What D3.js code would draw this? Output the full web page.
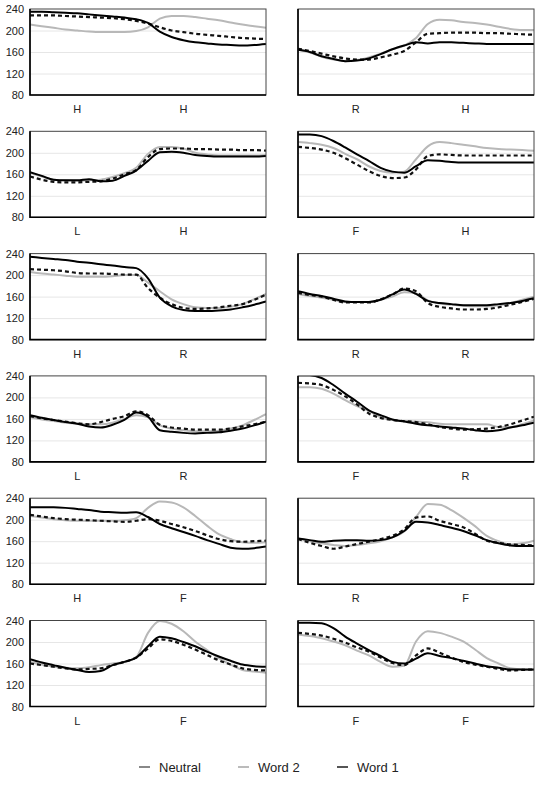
<!DOCTYPE html>
<html>
<head>
<meta charset="utf-8">
<script src="https://cdn.jsdelivr.net/npm/d3@7"></script>
<style>
  body { margin: 0; background: #fff; }
  svg text { font-family: "Liberation Sans", Arial, sans-serif; }
</style>
</head>
<body>
<div id="chart"></div>
<script>
// time points (percent of the utterance)
const timePoints = [0, 5, 10, 15, 20, 25, 30, 35, 40, 45, 50, 55, 60, 65, 70, 75, 80, 85, 90, 95, 100];
const yTicks = [80, 120, 160, 200, 240];

// word pair shown under each panel, row by row (left, right)
const panelWords = [
    ["H", "H"], ["R", "H"],
    ["L", "H"], ["F", "H"],
    ["H", "R"], ["R", "R"],
    ["L", "R"], ["F", "R"],
    ["H", "F"], ["R", "F"],
    ["L", "F"], ["F", "F"]
];
// where the two word labels sit on the time axis (left column, right column)
const labelPos = [[20, 65], [24.5, 71]];

const neutralSeries = [
    [228,228,228,227,226,225,224,223,221,218,213,206,200,197,194,192,190,188,186,185,184],
    [166,162,157,152,148,146,146,150,155,162,178,194,195,196,196,196,195,195,194,193,192],
    [156,150,146,145,145,146,147,152,160,168,192,207,208,208,207,207,206,206,205,205,204],
    [211,209,206,200,190,178,166,157,153,154,169,194,197,196,195,195,195,195,195,195,195],
    [211,210,209,207,204,203,203,202,201,201,176,158,146,139,137,138,140,143,146,154,164],
    [167,163,160,154,149,149,149,155,164,175,170,148,141,138,136,136,137,140,145,150,156],
    [165,161,158,155,152,150,154,160,165,174,167,149,144,142,140,140,140,142,146,150,155],
    [227,226,223,214,202,187,170,162,158,156,154,150,145,142,140,141,142,145,150,157,164],
    [209,206,203,201,200,199,198,197,196,198,201,198,192,186,179,171,164,160,159,160,161],
    [164,157,151,146,150,155,159,164,170,182,204,206,198,192,186,174,161,157,154,153,152],
    [160,157,154,151,149,150,151,157,163,171,188,205,202,195,186,176,166,158,151,148,147],
    [217,215,212,206,199,190,182,171,161,157,175,188,180,171,163,158,154,150,147,148,149]
];

const word2Series = [
    [211,208,205,202,200,198,197,197,197,199,206,222,227,227,225,222,219,215,211,208,205],
    [164,159,151,146,143,145,150,157,165,172,186,212,220,219,216,214,211,207,203,201,201],
    [163,156,150,149,148,149,150,155,162,172,198,211,211,208,200,197,195,195,195,195,196],
    [220,218,215,209,198,188,175,166,163,165,188,212,220,218,215,212,209,207,206,205,204],
    [206,203,201,199,197,197,197,198,200,200,186,170,155,146,140,139,139,141,146,155,165],
    [165,161,158,154,150,150,150,154,160,168,166,153,147,145,143,142,142,144,148,154,160],
    [163,159,156,153,151,150,150,153,160,167,163,148,142,139,137,137,138,142,148,158,169],
    [219,219,216,207,195,184,175,163,158,156,155,154,151,150,150,150,150,145,145,150,157],
    [207,204,201,199,198,198,198,198,199,203,222,234,232,223,207,189,173,164,158,157,158],
    [165,160,156,153,151,153,156,160,167,178,205,229,228,218,204,188,170,160,154,156,161],
    [163,158,154,152,151,153,157,160,163,172,217,239,234,220,201,185,170,158,148,145,143],
    [214,211,207,201,194,184,175,163,154,156,201,220,217,210,201,186,170,160,151,149,148]
];

const word1Series = [
    [235,235,234,233,232,230,228,226,224,221,214,198,188,182,178,176,174,173,172,173,175],
    [164,160,152,147,143,144,148,156,165,172,178,176,178,178,177,176,175,175,175,175,175],
    [164,157,150,149,149,151,147,148,157,167,185,201,202,200,196,194,193,193,193,193,194],
    [234,234,231,222,210,197,185,172,165,163,175,186,185,183,182,182,182,182,182,182,182],
    [234,232,230,228,225,223,220,218,215,213,194,158,142,135,133,133,134,136,140,145,151],
    [170,165,161,156,151,150,150,154,164,173,165,152,148,146,144,144,144,146,148,152,157],
    [167,162,158,154,151,146,144,149,158,172,164,139,136,134,133,134,135,138,142,148,155],
    [241,241,236,223,207,192,176,167,159,155,151,148,146,144,142,139,137,139,144,148,153],
    [223,223,223,222,220,218,215,214,213,214,205,192,184,177,170,162,155,148,146,147,150],
    [165,162,159,161,162,162,161,162,167,179,196,195,190,185,179,171,162,156,152,151,151],
    [168,162,157,152,148,144,146,157,163,171,192,210,207,200,192,182,173,165,158,155,154],
    [236,236,235,226,210,197,185,174,163,160,169,179,174,170,165,160,155,152,149,149,149]
];

const legendNames = ["Neutral", "Word 2", "Word 1"];

const width = 540, height = 786;
const colX = [30, 298];
const plotW = 236, plotH = 86;
const rowTop0 = 9, rowStep = 122.3;

const svg = d3.select("#chart").append("svg")
    .attr("width", width)
    .attr("height", height);

const defs = svg.append("defs");

panelWords.forEach((words, i) => {
    const col = i % 2;
    const row = Math.floor(i / 2);
    const left = colX[col];
    const top = rowTop0 + row * rowStep;

    const x = d3.scaleLinear().domain([0, 100]).range([left, left + plotW]);
    const y = d3.scaleLinear().domain([80, 240]).range([top + plotH, top]);

    const g = svg.append("g");

    // gridlines
    g.append("g")
        .attr("transform", `translate(${left},0)`)
        .call(d3.axisLeft(y).tickValues([120, 160, 200]).tickSize(-plotW).tickFormat(""))
        .call(s => s.select(".domain").remove())
        .selectAll("line")
        .attr("stroke", "#e6e6e6");

    // y labels only on the left column
    if (col === 0) {
        g.append("g")
            .attr("transform", `translate(${left},0)`)
            .call(d3.axisLeft(y).tickValues(yTicks).tickSize(0).tickPadding(6))
            .call(s => s.select(".domain").remove())
            .selectAll("text")
            .style("font-size", "11px")
            .attr("fill", "#222");
    }

    const clipId = "clip" + i;
    defs.append("clipPath").attr("id", clipId)
        .append("rect")
        .attr("x", left).attr("y", top)
        .attr("width", plotW).attr("height", plotH);

    const line = d3.line()
        .x((d, k) => x(timePoints[k]))
        .y(d => y(d))
        .curve(d3.curveMonotoneX);

    const lines = g.append("g").attr("clip-path", `url(#${clipId})`);

    lines.append("path")
        .attr("d", line(word2Series[i]))
        .attr("fill", "none")
        .attr("stroke", "#b8b8b8")
        .attr("stroke-width", 2);

    lines.append("path")
        .attr("d", line(neutralSeries[i]))
        .attr("fill", "none")
        .attr("stroke", "#111")
        .attr("stroke-width", 2.2)
        .attr("stroke-dasharray", "4,3");

    lines.append("path")
        .attr("d", line(word1Series[i]))
        .attr("fill", "none")
        .attr("stroke", "#000")
        .attr("stroke-width", 2);

    // frame: thin top/right, heavier left/bottom
    g.append("rect")
        .attr("x", left).attr("y", top)
        .attr("width", plotW).attr("height", plotH)
        .attr("fill", "none")
        .attr("stroke", "#444")
        .attr("stroke-width", 1);
    g.append("path")
        .attr("d", `M${left},${top}V${top + plotH}H${left + plotW}`)
        .attr("fill", "none")
        .attr("stroke", "#000")
        .attr("stroke-width", 1.6);

    // word labels
    g.selectAll(".word")
        .data(words)
        .enter()
        .append("text")
        .attr("x", (d, k) => x(labelPos[col][k]))
        .attr("y", top + plotH + 18)
        .attr("text-anchor", "middle")
        .style("font-size", "11px")
        .attr("fill", "#222")
        .text(d => d);
});

// legend
const legendColors = ["#888", "#bbb", "#555"];
const legendX = [139, 238, 337];
const legend = svg.append("g");
legendNames.forEach((name, k) => {
    legend.append("line")
        .attr("x1", legendX[k]).attr("x2", legendX[k] + 11)
        .attr("y1", 767).attr("y2", 767)
        .attr("stroke", legendColors[k])
        .attr("stroke-width", 2);
    legend.append("text")
        .attr("x", legendX[k] + 20)
        .attr("y", 771.5)
        .style("font-size", "13px")
        .attr("fill", "#222")
        .text(name);
});
</script>
</body>
</html>
